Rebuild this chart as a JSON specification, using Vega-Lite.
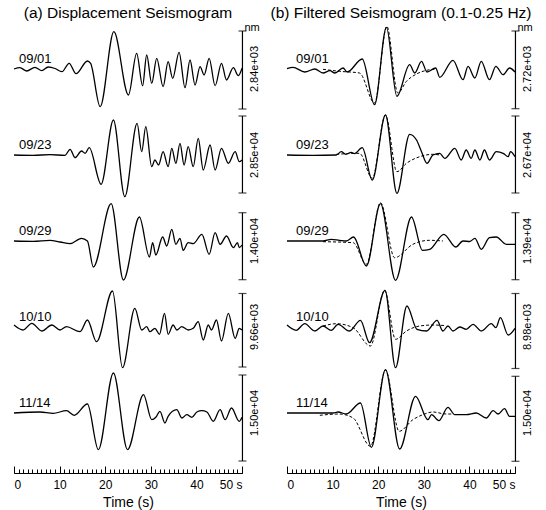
{
"$schema": "https://vega.github.io/schema/vega-lite/v6.json",
"background": "white",
"padding": {"left": 11, "top": 5, "right": 5, "bottom": 2},
"bounds": "flush",
"data": {"values": [
{"p":"a","d":"09/01","k":"m","top":38,"bot":-40,"lab":"2.84e+03"},
{"p":"a","d":"09/23","k":"m","top":39,"bot":-38,"lab":"2.85e+04"},
{"p":"a","d":"09/29","k":"m","top":28.3,"bot":-38.7,"lab":"1.40e+04"},
{"p":"a","d":"10/10","k":"m","top":33.5,"bot":-40,"lab":"9.66e+03"},
{"p":"a","d":"11/14","k":"m","top":38,"bot":-48,"lab":"1.50e+04"},
{"p":"b","d":"09/01","k":"m","top":38,"bot":-39.7,"lab":"2.72e+03"},
{"p":"b","d":"09/23","k":"m","top":39,"bot":-38,"lab":"2.67e+04"},
{"p":"b","d":"09/29","k":"m","top":28.3,"bot":-38.7,"lab":"1.39e+04"},
{"p":"b","d":"10/10","k":"m","top":33.5,"bot":-41.5,"lab":"8.98e+03"},
{"p":"b","d":"11/14","k":"m","top":36.7,"bot":-48.3,"lab":"1.50e+04"},

{"p":"a","d":"09/01","k":"s","t":0,"v":0},{"p":"a","d":"09/01","k":"s","t":1.3,"v":1.3},{"p":"a","d":"09/01","k":"s","t":2.8,"v":-2},{"p":"a","d":"09/01","k":"s","t":4.6,"v":1.7},{"p":"a","d":"09/01","k":"s","t":6.1,"v":-1.7},{"p":"a","d":"09/01","k":"s","t":7.5,"v":2},{"p":"a","d":"09/01","k":"s","t":9.0,"v":0.5},{"p":"a","d":"09/01","k":"s","t":10.5,"v":-2.7},{"p":"a","d":"09/01","k":"s","t":12.1,"v":5.7},{"p":"a","d":"09/01","k":"s","t":13.6,"v":-4.7},{"p":"a","d":"09/01","k":"s","t":16.1,"v":8},{"p":"a","d":"09/01","k":"s","t":16.8,"v":5.7},{"p":"a","d":"09/01","k":"s","t":18.9,"v":-37.7},{"p":"a","d":"09/01","k":"s","t":21.9,"v":37.3},{"p":"a","d":"09/01","k":"s","t":25.1,"v":-26},{"p":"a","d":"09/01","k":"s","t":26.9,"v":15.7},{"p":"a","d":"09/01","k":"s","t":28.2,"v":-16.7},{"p":"a","d":"09/01","k":"s","t":29.1,"v":14},{"p":"a","d":"09/01","k":"s","t":30.2,"v":-14.3},{"p":"a","d":"09/01","k":"s","t":31.3,"v":10.7},{"p":"a","d":"09/01","k":"s","t":32.7,"v":-17.7},{"p":"a","d":"09/01","k":"s","t":33.8,"v":7.3},{"p":"a","d":"09/01","k":"s","t":34.8,"v":-9.3},{"p":"a","d":"09/01","k":"s","t":36.2,"v":16.7},{"p":"a","d":"09/01","k":"s","t":37.5,"v":-18.7},{"p":"a","d":"09/01","k":"s","t":38.6,"v":9},{"p":"a","d":"09/01","k":"s","t":39.7,"v":-16},{"p":"a","d":"09/01","k":"s","t":40.8,"v":2.3},{"p":"a","d":"09/01","k":"s","t":41.7,"v":-6},{"p":"a","d":"09/01","k":"s","t":42.8,"v":10.7},{"p":"a","d":"09/01","k":"s","t":44.1,"v":-16.7},{"p":"a","d":"09/01","k":"s","t":45.5,"v":5.7},{"p":"a","d":"09/01","k":"s","t":46.6,"v":-11},{"p":"a","d":"09/01","k":"s","t":48.1,"v":1.3},{"p":"a","d":"09/01","k":"s","t":49.2,"v":-6.7},{"p":"a","d":"09/01","k":"s","t":50,"v":0.7},

{"p":"a","d":"09/23","k":"s","t":0,"v":0},{"p":"a","d":"09/23","k":"s","t":4.2,"v":-0.3},{"p":"a","d":"09/23","k":"s","t":7.9,"v":0.3},{"p":"a","d":"09/23","k":"s","t":11.2,"v":-0.3},{"p":"a","d":"09/23","k":"s","t":12.3,"v":5.7},{"p":"a","d":"09/23","k":"s","t":13.4,"v":-2.7},{"p":"a","d":"09/23","k":"s","t":14.8,"v":4},{"p":"a","d":"09/23","k":"s","t":15.6,"v":1.7},{"p":"a","d":"09/23","k":"s","t":16.5,"v":7.3},{"p":"a","d":"09/23","k":"s","t":19.1,"v":-29.3},{"p":"a","d":"09/23","k":"s","t":21.8,"v":35},{"p":"a","d":"09/23","k":"s","t":24.3,"v":-41.7},{"p":"a","d":"09/23","k":"s","t":27.0,"v":31.7},{"p":"a","d":"09/23","k":"s","t":28.0,"v":3.3},{"p":"a","d":"09/23","k":"s","t":28.9,"v":28.3},{"p":"a","d":"09/23","k":"s","t":30.2,"v":-11.7},{"p":"a","d":"09/23","k":"s","t":30.9,"v":-5},{"p":"a","d":"09/23","k":"s","t":31.7,"v":-10},{"p":"a","d":"09/23","k":"s","t":32.7,"v":3.3},{"p":"a","d":"09/23","k":"s","t":33.8,"v":-11.7},{"p":"a","d":"09/23","k":"s","t":34.6,"v":6.7},{"p":"a","d":"09/23","k":"s","t":35.5,"v":-8.3},{"p":"a","d":"09/23","k":"s","t":36.4,"v":11.7},{"p":"a","d":"09/23","k":"s","t":37.3,"v":-10},{"p":"a","d":"09/23","k":"s","t":38.2,"v":8.3},{"p":"a","d":"09/23","k":"s","t":39.3,"v":-11.7},{"p":"a","d":"09/23","k":"s","t":40.4,"v":16.7},{"p":"a","d":"09/23","k":"s","t":41.5,"v":-15},{"p":"a","d":"09/23","k":"s","t":43.0,"v":10},{"p":"a","d":"09/23","k":"s","t":44.1,"v":-15},{"p":"a","d":"09/23","k":"s","t":45.5,"v":6.7},{"p":"a","d":"09/23","k":"s","t":47.0,"v":-8.3},{"p":"a","d":"09/23","k":"s","t":48.5,"v":3.3},{"p":"a","d":"09/23","k":"s","t":49.4,"v":-6.7},{"p":"a","d":"09/23","k":"s","t":50,"v":-5},

{"p":"a","d":"09/29","k":"s","t":0,"v":0},{"p":"a","d":"09/29","k":"s","t":4.2,"v":-0.3},{"p":"a","d":"09/29","k":"s","t":7.9,"v":0.7},{"p":"a","d":"09/29","k":"s","t":10.1,"v":-1},{"p":"a","d":"09/29","k":"s","t":12.3,"v":-2.7},{"p":"a","d":"09/29","k":"s","t":14.8,"v":2.7},{"p":"a","d":"09/29","k":"s","t":16.1,"v":0},{"p":"a","d":"09/29","k":"s","t":17.4,"v":-26},{"p":"a","d":"09/29","k":"s","t":21.3,"v":37.3},{"p":"a","d":"09/29","k":"s","t":24.0,"v":-39},{"p":"a","d":"09/29","k":"s","t":27.5,"v":24},{"p":"a","d":"09/29","k":"s","t":29.7,"v":-16},{"p":"a","d":"09/29","k":"s","t":30.4,"v":-1.7},{"p":"a","d":"09/29","k":"s","t":31.1,"v":-14},{"p":"a","d":"09/29","k":"s","t":32.6,"v":4},{"p":"a","d":"09/29","k":"s","t":33.5,"v":-5},{"p":"a","d":"09/29","k":"s","t":34.6,"v":11.7},{"p":"a","d":"09/29","k":"s","t":35.5,"v":-3.3},{"p":"a","d":"09/29","k":"s","t":36.4,"v":2.7},{"p":"a","d":"09/29","k":"s","t":37.1,"v":-9.3},{"p":"a","d":"09/29","k":"s","t":38.2,"v":-1.7},{"p":"a","d":"09/29","k":"s","t":39.3,"v":-2.7},{"p":"a","d":"09/29","k":"s","t":41.2,"v":6.7},{"p":"a","d":"09/29","k":"s","t":42.8,"v":-13.3},{"p":"a","d":"09/29","k":"s","t":44.1,"v":8.3},{"p":"a","d":"09/29","k":"s","t":45.2,"v":-3.3},{"p":"a","d":"09/29","k":"s","t":46.6,"v":5},{"p":"a","d":"09/29","k":"s","t":48.1,"v":-6.7},{"p":"a","d":"09/29","k":"s","t":49.0,"v":-1.7},{"p":"a","d":"09/29","k":"s","t":49.4,"v":-6.7},{"p":"a","d":"09/29","k":"s","t":50,"v":-4},

{"p":"a","d":"10/10","k":"s","t":0,"v":2},{"p":"a","d":"10/10","k":"s","t":2.0,"v":-3},{"p":"a","d":"10/10","k":"s","t":3.9,"v":3.7},{"p":"a","d":"10/10","k":"s","t":6.1,"v":-4},{"p":"a","d":"10/10","k":"s","t":8.3,"v":2},{"p":"a","d":"10/10","k":"s","t":10.1,"v":-3},{"p":"a","d":"10/10","k":"s","t":11.5,"v":0.3},{"p":"a","d":"10/10","k":"s","t":14.5,"v":-4.7},{"p":"a","d":"10/10","k":"s","t":16.1,"v":7},{"p":"a","d":"10/10","k":"s","t":18.1,"v":-14.7},{"p":"a","d":"10/10","k":"s","t":21.6,"v":36},{"p":"a","d":"10/10","k":"s","t":23.8,"v":-40.7},{"p":"a","d":"10/10","k":"s","t":26.5,"v":18.7},{"p":"a","d":"10/10","k":"s","t":28.0,"v":-3},{"p":"a","d":"10/10","k":"s","t":29.1,"v":0.3},{"p":"a","d":"10/10","k":"s","t":29.8,"v":-4.7},{"p":"a","d":"10/10","k":"s","t":30.9,"v":-1.3},{"p":"a","d":"10/10","k":"s","t":31.9,"v":-7.3},{"p":"a","d":"10/10","k":"s","t":33.0,"v":13.7},{"p":"a","d":"10/10","k":"s","t":33.8,"v":-7.3},{"p":"a","d":"10/10","k":"s","t":34.9,"v":2},{"p":"a","d":"10/10","k":"s","t":35.7,"v":-3},{"p":"a","d":"10/10","k":"s","t":36.8,"v":0.3},{"p":"a","d":"10/10","k":"s","t":38.2,"v":-3},{"p":"a","d":"10/10","k":"s","t":39.3,"v":-1.3},{"p":"a","d":"10/10","k":"s","t":40.4,"v":5.3},{"p":"a","d":"10/10","k":"s","t":41.5,"v":-13},{"p":"a","d":"10/10","k":"s","t":42.6,"v":2},{"p":"a","d":"10/10","k":"s","t":43.3,"v":-3},{"p":"a","d":"10/10","k":"s","t":44.4,"v":7},{"p":"a","d":"10/10","k":"s","t":45.5,"v":-14},{"p":"a","d":"10/10","k":"s","t":47.0,"v":13.7},{"p":"a","d":"10/10","k":"s","t":48.5,"v":-11.3},{"p":"a","d":"10/10","k":"s","t":49.4,"v":-1.3},{"p":"a","d":"10/10","k":"s","t":50,"v":-3},

{"p":"a","d":"11/14","k":"s","t":0,"v":0},{"p":"a","d":"11/14","k":"s","t":5.7,"v":1},{"p":"a","d":"11/14","k":"s","t":8.6,"v":-0.3},{"p":"a","d":"11/14","k":"s","t":11.5,"v":2.3},{"p":"a","d":"11/14","k":"s","t":13.2,"v":-2.3},{"p":"a","d":"11/14","k":"s","t":16.1,"v":9},{"p":"a","d":"11/14","k":"s","t":18.5,"v":-36.7},{"p":"a","d":"11/14","k":"s","t":21.8,"v":40},{"p":"a","d":"11/14","k":"s","t":24.9,"v":-36.7},{"p":"a","d":"11/14","k":"s","t":28.4,"v":18.3},{"p":"a","d":"11/14","k":"s","t":30.2,"v":-6.7},{"p":"a","d":"11/14","k":"s","t":31.1,"v":-4.3},{"p":"a","d":"11/14","k":"s","t":32.0,"v":1.7},{"p":"a","d":"11/14","k":"s","t":33.1,"v":-10},{"p":"a","d":"11/14","k":"s","t":33.8,"v":-3.3},{"p":"a","d":"11/14","k":"s","t":35.7,"v":3.3},{"p":"a","d":"11/14","k":"s","t":36.8,"v":-5},{"p":"a","d":"11/14","k":"s","t":37.9,"v":-1.7},{"p":"a","d":"11/14","k":"s","t":39.0,"v":-4.3},{"p":"a","d":"11/14","k":"s","t":40.1,"v":1},{"p":"a","d":"11/14","k":"s","t":41.2,"v":2.3},{"p":"a","d":"11/14","k":"s","t":42.3,"v":1},{"p":"a","d":"11/14","k":"s","t":43.7,"v":-8.3},{"p":"a","d":"11/14","k":"s","t":45.2,"v":3.3},{"p":"a","d":"11/14","k":"s","t":46.3,"v":-6.7},{"p":"a","d":"11/14","k":"s","t":47.7,"v":5},{"p":"a","d":"11/14","k":"s","t":49.4,"v":-8.3},{"p":"a","d":"11/14","k":"s","t":50,"v":-4.3},

{"p":"b","d":"09/01","k":"s","t":0,"v":0.3},{"p":"b","d":"09/01","k":"s","t":1.3,"v":1.7},{"p":"b","d":"09/01","k":"s","t":3.9,"v":-3},{"p":"b","d":"09/01","k":"s","t":6.1,"v":0},{"p":"b","d":"09/01","k":"s","t":7.9,"v":-4},{"p":"b","d":"09/01","k":"s","t":9.4,"v":-1.7},{"p":"b","d":"09/01","k":"s","t":10.5,"v":-4},{"p":"b","d":"09/01","k":"s","t":12.3,"v":1},{"p":"b","d":"09/01","k":"s","t":13.2,"v":-3},{"p":"b","d":"09/01","k":"s","t":16.5,"v":10},{"p":"b","d":"09/01","k":"s","t":19.2,"v":-35.7},{"p":"b","d":"09/01","k":"s","t":21.8,"v":41.7},{"p":"b","d":"09/01","k":"s","t":24.1,"v":-27.3},{"p":"b","d":"09/01","k":"s","t":26.9,"v":4.3},{"p":"b","d":"09/01","k":"s","t":28.0,"v":-4},{"p":"b","d":"09/01","k":"s","t":29.5,"v":7.7},{"p":"b","d":"09/01","k":"s","t":30.7,"v":-3},{"p":"b","d":"09/01","k":"s","t":32.6,"v":1},{"p":"b","d":"09/01","k":"s","t":33.5,"v":-8.3},{"p":"b","d":"09/01","k":"s","t":36.4,"v":8.7},{"p":"b","d":"09/01","k":"s","t":38.6,"v":-10.7},{"p":"b","d":"09/01","k":"s","t":39.7,"v":2.7},{"p":"b","d":"09/01","k":"s","t":41.2,"v":-9},{"p":"b","d":"09/01","k":"s","t":42.6,"v":7.7},{"p":"b","d":"09/01","k":"s","t":44.4,"v":-10.7},{"p":"b","d":"09/01","k":"s","t":45.8,"v":2.7},{"p":"b","d":"09/01","k":"s","t":47.4,"v":-5.7},{"p":"b","d":"09/01","k":"s","t":48.8,"v":1},{"p":"b","d":"09/01","k":"s","t":50,"v":-3},
{"p":"b","d":"09/01","k":"f","t":7.9,"v":-0.3},{"p":"b","d":"09/01","k":"f","t":11.5,"v":-2.3},{"p":"b","d":"09/01","k":"f","t":15.9,"v":-4},{"p":"b","d":"09/01","k":"f","t":19.2,"v":-34},{"p":"b","d":"09/01","k":"f","t":21.9,"v":42.7},{"p":"b","d":"09/01","k":"f","t":24.3,"v":-24},{"p":"b","d":"09/01","k":"f","t":26.2,"v":-12.3},{"p":"b","d":"09/01","k":"f","t":28.4,"v":-5},{"p":"b","d":"09/01","k":"f","t":31.3,"v":-0.7},{"p":"b","d":"09/01","k":"f","t":32.7,"v":0},

{"p":"b","d":"09/23","k":"s","t":0,"v":0},{"p":"b","d":"09/23","k":"s","t":5.7,"v":-0.3},{"p":"b","d":"09/23","k":"s","t":10.8,"v":0},{"p":"b","d":"09/23","k":"s","t":11.9,"v":3.3},{"p":"b","d":"09/23","k":"s","t":12.9,"v":0.7},{"p":"b","d":"09/23","k":"s","t":14.1,"v":2.7},{"p":"b","d":"09/23","k":"s","t":14.8,"v":1.3},{"p":"b","d":"09/23","k":"s","t":16.5,"v":7.3},{"p":"b","d":"09/23","k":"s","t":18.7,"v":-25},{"p":"b","d":"09/23","k":"s","t":21.6,"v":40},{"p":"b","d":"09/23","k":"s","t":24.1,"v":-38.3},{"p":"b","d":"09/23","k":"s","t":26.9,"v":20.7},{"p":"b","d":"09/23","k":"s","t":28.4,"v":15},{"p":"b","d":"09/23","k":"s","t":29.5,"v":3.3},{"p":"b","d":"09/23","k":"s","t":30.7,"v":-8.3},{"p":"b","d":"09/23","k":"s","t":32.0,"v":0},{"p":"b","d":"09/23","k":"s","t":33.5,"v":1.7},{"p":"b","d":"09/23","k":"s","t":34.6,"v":-3.3},{"p":"b","d":"09/23","k":"s","t":36.8,"v":6.7},{"p":"b","d":"09/23","k":"s","t":38.2,"v":-5},{"p":"b","d":"09/23","k":"s","t":39.3,"v":5},{"p":"b","d":"09/23","k":"s","t":40.4,"v":-3.3},{"p":"b","d":"09/23","k":"s","t":41.2,"v":5},{"p":"b","d":"09/23","k":"s","t":42.3,"v":-5},{"p":"b","d":"09/23","k":"s","t":43.3,"v":5},{"p":"b","d":"09/23","k":"s","t":44.4,"v":-5},{"p":"b","d":"09/23","k":"s","t":45.9,"v":3.3},{"p":"b","d":"09/23","k":"s","t":47.4,"v":1.7},{"p":"b","d":"09/23","k":"s","t":48.5,"v":-1.7},{"p":"b","d":"09/23","k":"s","t":49.0,"v":3.3},{"p":"b","d":"09/23","k":"s","t":50,"v":-1.7},
{"p":"b","d":"09/23","k":"f","t":10.8,"v":0.7},{"p":"b","d":"09/23","k":"f","t":15.9,"v":1.7},{"p":"b","d":"09/23","k":"f","t":18.7,"v":-23.3},{"p":"b","d":"09/23","k":"f","t":21.6,"v":40},{"p":"b","d":"09/23","k":"f","t":24.1,"v":-16.7},{"p":"b","d":"09/23","k":"f","t":26.2,"v":-8.3},{"p":"b","d":"09/23","k":"f","t":29.1,"v":-1.7},{"p":"b","d":"09/23","k":"f","t":32.0,"v":0.7},{"p":"b","d":"09/23","k":"f","t":33.5,"v":0},

{"p":"b","d":"09/29","k":"s","t":0,"v":0},{"p":"b","d":"09/29","k":"s","t":7.9,"v":0},{"p":"b","d":"09/29","k":"s","t":9.7,"v":1.7},{"p":"b","d":"09/29","k":"s","t":11.5,"v":0.7},{"p":"b","d":"09/29","k":"s","t":13.0,"v":0},{"p":"b","d":"09/29","k":"s","t":14.6,"v":4},{"p":"b","d":"09/29","k":"s","t":17.4,"v":-25},{"p":"b","d":"09/29","k":"s","t":20.5,"v":37.3},{"p":"b","d":"09/29","k":"s","t":23.8,"v":-39.3},{"p":"b","d":"09/29","k":"s","t":27.3,"v":24},{"p":"b","d":"09/29","k":"s","t":29.7,"v":-9.3},{"p":"b","d":"09/29","k":"s","t":31.3,"v":-8.3},{"p":"b","d":"09/29","k":"s","t":34.4,"v":6.7},{"p":"b","d":"09/29","k":"s","t":37.0,"v":-6},{"p":"b","d":"09/29","k":"s","t":38.6,"v":0},{"p":"b","d":"09/29","k":"s","t":40.1,"v":-0.5},{"p":"b","d":"09/29","k":"s","t":41.2,"v":2.7},{"p":"b","d":"09/29","k":"s","t":42.6,"v":-8.3},{"p":"b","d":"09/29","k":"s","t":44.4,"v":3.3},{"p":"b","d":"09/29","k":"s","t":45.9,"v":4},{"p":"b","d":"09/29","k":"s","t":48.1,"v":-3.3},{"p":"b","d":"09/29","k":"s","t":50,"v":-3.3},
{"p":"b","d":"09/29","k":"f","t":7.9,"v":-0.7},{"p":"b","d":"09/29","k":"f","t":14.5,"v":-1.7},{"p":"b","d":"09/29","k":"f","t":17.4,"v":-23.3},{"p":"b","d":"09/29","k":"f","t":20.5,"v":38.3},{"p":"b","d":"09/29","k":"f","t":23.6,"v":-16.7},{"p":"b","d":"09/29","k":"f","t":27.6,"v":-3.3},{"p":"b","d":"09/29","k":"f","t":31.3,"v":0.7},{"p":"b","d":"09/29","k":"f","t":34.2,"v":0},

{"p":"b","d":"10/10","k":"s","t":0,"v":2},{"p":"b","d":"10/10","k":"s","t":2.0,"v":-3.3},{"p":"b","d":"10/10","k":"s","t":3.9,"v":3.3},{"p":"b","d":"10/10","k":"s","t":6.1,"v":-4},{"p":"b","d":"10/10","k":"s","t":7.9,"v":1},{"p":"b","d":"10/10","k":"s","t":9.7,"v":-3.3},{"p":"b","d":"10/10","k":"s","t":11.2,"v":2.7},{"p":"b","d":"10/10","k":"s","t":13.7,"v":-4},{"p":"b","d":"10/10","k":"s","t":16.1,"v":6.7},{"p":"b","d":"10/10","k":"s","t":18.1,"v":-15.7},{"p":"b","d":"10/10","k":"s","t":21.5,"v":36.7},{"p":"b","d":"10/10","k":"s","t":23.8,"v":-40.7},{"p":"b","d":"10/10","k":"s","t":26.3,"v":21},{"p":"b","d":"10/10","k":"s","t":28.5,"v":-2.3},{"p":"b","d":"10/10","k":"s","t":30.6,"v":-4},{"p":"b","d":"10/10","k":"s","t":32.9,"v":6.7},{"p":"b","d":"10/10","k":"s","t":34.2,"v":-4},{"p":"b","d":"10/10","k":"s","t":35.3,"v":1},{"p":"b","d":"10/10","k":"s","t":36.4,"v":-4},{"p":"b","d":"10/10","k":"s","t":37.9,"v":0},{"p":"b","d":"10/10","k":"s","t":39.3,"v":-2.3},{"p":"b","d":"10/10","k":"s","t":40.8,"v":2.7},{"p":"b","d":"10/10","k":"s","t":42.6,"v":-4},{"p":"b","d":"10/10","k":"s","t":44.8,"v":3.3},{"p":"b","d":"10/10","k":"s","t":45.8,"v":-0.7},{"p":"b","d":"10/10","k":"s","t":46.8,"v":9.3},{"p":"b","d":"10/10","k":"s","t":48.5,"v":-8},{"p":"b","d":"10/10","k":"s","t":50,"v":-1.3},
{"p":"b","d":"10/10","k":"f","t":7.9,"v":1},{"p":"b","d":"10/10","k":"f","t":10.8,"v":3.3},{"p":"b","d":"10/10","k":"f","t":14.5,"v":-0.7},{"p":"b","d":"10/10","k":"f","t":18.3,"v":-19},{"p":"b","d":"10/10","k":"f","t":21.4,"v":36.7},{"p":"b","d":"10/10","k":"f","t":23.8,"v":-12.3},{"p":"b","d":"10/10","k":"f","t":26.2,"v":-4},{"p":"b","d":"10/10","k":"f","t":29.1,"v":1},{"p":"b","d":"10/10","k":"f","t":32.0,"v":2},{"p":"b","d":"10/10","k":"f","t":34.9,"v":1.3},

{"p":"b","d":"11/14","k":"s","t":0,"v":0},{"p":"b","d":"11/14","k":"s","t":10.1,"v":0},{"p":"b","d":"11/14","k":"s","t":11.2,"v":1},{"p":"b","d":"11/14","k":"s","t":13.0,"v":-1},{"p":"b","d":"11/14","k":"s","t":16.1,"v":10},{"p":"b","d":"11/14","k":"s","t":18.5,"v":-34.3},{"p":"b","d":"11/14","k":"s","t":21.6,"v":43.3},{"p":"b","d":"11/14","k":"s","t":24.7,"v":-36},{"p":"b","d":"11/14","k":"s","t":28.2,"v":16.7},{"p":"b","d":"11/14","k":"s","t":30.9,"v":-6.7},{"p":"b","d":"11/14","k":"s","t":31.7,"v":-1.7},{"p":"b","d":"11/14","k":"s","t":33.3,"v":-7.7},{"p":"b","d":"11/14","k":"s","t":35.3,"v":5.7},{"p":"b","d":"11/14","k":"s","t":36.8,"v":-1.7},{"p":"b","d":"11/14","k":"s","t":39.3,"v":-1.7},{"p":"b","d":"11/14","k":"s","t":41.5,"v":0},{"p":"b","d":"11/14","k":"s","t":43.7,"v":-5},{"p":"b","d":"11/14","k":"s","t":45.2,"v":2.3},{"p":"b","d":"11/14","k":"s","t":46.3,"v":-1},{"p":"b","d":"11/14","k":"s","t":47.7,"v":4.3},{"p":"b","d":"11/14","k":"s","t":48.8,"v":-3.3},{"p":"b","d":"11/14","k":"s","t":50,"v":-3.3},
{"p":"b","d":"11/14","k":"f","t":7.2,"v":-2.3},{"p":"b","d":"11/14","k":"f","t":11.5,"v":-1},{"p":"b","d":"11/14","k":"f","t":14.5,"v":-5},{"p":"b","d":"11/14","k":"f","t":18.3,"v":-33.3},{"p":"b","d":"11/14","k":"f","t":21.6,"v":43},{"p":"b","d":"11/14","k":"f","t":24.6,"v":-18.3},{"p":"b","d":"11/14","k":"f","t":27.6,"v":-6.7},{"p":"b","d":"11/14","k":"f","t":29.8,"v":-1.7},{"p":"b","d":"11/14","k":"f","t":32.0,"v":1},{"p":"b","d":"11/14","k":"f","t":34.9,"v":-1},{"p":"b","d":"11/14","k":"f","t":36.4,"v":-1}
]},
"facet": {
  "row": {"field": "d", "type": "nominal", "header": null},
  "column": {"field": "p", "type": "nominal", "header": {"title": null, "labelExpr": "datum.value == 'a' ? '(a) Displacement Seismogram' : '(b) Filtered Seismogram (0.1-0.25 Hz)'", "labelFontSize": 15.5, "labelFont": "Liberation Sans", "labelColor": "black", "labelPadding": 5}}
},
"spacing": {"row": 0, "column": 45},
"spec": {
  "width": 228,
  "height": 86,
  "resolve": {"axis": {"x": "independent"}},
  "layer": [
    {"transform": [{"filter": "datum.k == 's'"}],
     "mark": {"type": "line", "color": "black", "strokeWidth": 1.3, "interpolate": "monotone"},
     "encoding": {
       "x": {"field": "t", "type": "quantitative", "scale": {"domain": [0, 50], "nice": false},
             "axis": {"orient": "bottom", "values": [0, 10, 20, 30, 40, 50], "tickSize": -7, "labelPadding": 13, "offset": 17, "grid": false, "domainColor": "black", "tickColor": "black", "labelColor": "black", "labelFontSize": 12, "labelFont": "Liberation Sans", "labelExpr": "datum.value == 50 ? '50 s' : datum.label", "title": "Time (s)", "titleFontSize": 14, "titleFont": "Liberation Sans", "titleFontWeight": "normal", "titleColor": "black", "titlePadding": 5}},
       "y": {"field": "v", "type": "quantitative", "scale": {"domain": [-43, 43], "nice": false, "zero": false}, "axis": null}
     }},
    {"transform": [{"filter": "datum.k == 'f'"}],
     "mark": {"type": "line", "color": "black", "strokeWidth": 1, "strokeDash": [3, 2], "interpolate": "monotone"},
     "encoding": {
       "x": {"field": "t", "type": "quantitative",
             "axis": {"orient": "bottom", "values": [0,1,2,3,4,5,6,7,8,9,10,11,12,13,14,15,16,17,18,19,20,21,22,23,24,25,26,27,28,29,30,31,32,33,34,35,36,37,38,39,40,41,42,43,44,45,46,47,48,49,50], "tickSize": -4, "labels": false, "domain": false, "offset": 17, "grid": false, "tickColor": "black", "title": null}},
       "y": {"field": "v", "type": "quantitative", "axis": null}
     }},
    {"transform": [{"filter": "datum.k == 'm'"}],
     "mark": {"type": "rule", "color": "black", "strokeWidth": 1.2},
     "encoding": {
       "x": {"datum": 50.1, "type": "quantitative", "axis": null},
       "y": {"field": "top", "type": "quantitative", "axis": null},
       "y2": {"field": "bot"}
     }},
    {"transform": [{"filter": "datum.k == 'm'"}],
     "mark": {"type": "tick", "orient": "horizontal", "color": "black", "size": 8, "thickness": 1.2},
     "encoding": {
       "x": {"datum": 50.1, "type": "quantitative", "axis": null},
       "y": {"field": "top", "type": "quantitative", "axis": null}
     }},
    {"transform": [{"filter": "datum.k == 'm'"}],
     "mark": {"type": "tick", "orient": "horizontal", "color": "black", "size": 8, "thickness": 1.2},
     "encoding": {
       "x": {"datum": 50.1, "type": "quantitative", "axis": null},
       "y": {"field": "bot", "type": "quantitative", "axis": null}
     }},
    {"transform": [{"filter": "datum.k == 'm'"}],
     "mark": {"type": "text", "angle": 270, "fontSize": 11, "font": "Liberation Sans", "align": "center", "baseline": "middle", "color": "black"},
     "encoding": {
       "x": {"datum": 52.8, "type": "quantitative", "axis": null},
       "y": {"datum": 0, "type": "quantitative", "axis": null},
       "text": {"field": "lab"}
     }},
    {"transform": [{"filter": "datum.k == 'm' && datum.p == 'a'"}],
     "mark": {"type": "text", "fontSize": 13, "font": "Liberation Sans", "align": "left", "baseline": "alphabetic", "color": "black"},
     "encoding": {
       "x": {"datum": 1.1, "type": "quantitative", "axis": null},
       "y": {"datum": 6, "type": "quantitative", "axis": null},
       "text": {"field": "d"}
     }},
    {"transform": [{"filter": "datum.k == 'm' && datum.p == 'b'"}],
     "mark": {"type": "text", "fontSize": 13, "font": "Liberation Sans", "align": "left", "baseline": "alphabetic", "color": "black"},
     "encoding": {
       "x": {"datum": 2.0, "type": "quantitative", "axis": null},
       "y": {"datum": 6, "type": "quantitative", "axis": null},
       "text": {"field": "d"}
     }},
    {"transform": [{"filter": "datum.k == 'm' && datum.d == '09/01'"}],
     "mark": {"type": "text", "fontSize": 11, "font": "Liberation Sans", "align": "center", "baseline": "alphabetic", "color": "black"},
     "encoding": {
       "x": {"datum": 52.2, "type": "quantitative", "axis": null},
       "y": {"datum": 38, "type": "quantitative", "axis": null},
       "text": {"value": "nm"}
     }}
  ]
},
"config": {"view": {"stroke": null}, "font": "Liberation Sans"}
}
